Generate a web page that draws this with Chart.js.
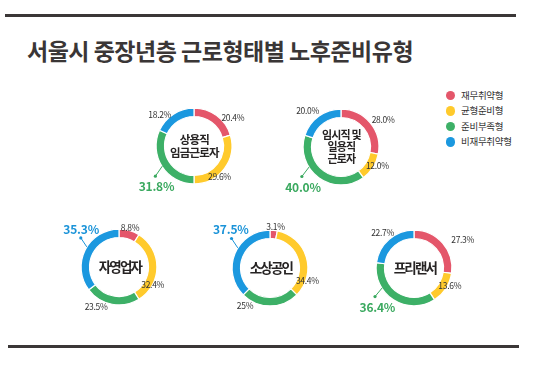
<!DOCTYPE html>
<html><head><meta charset="utf-8">
<script src="https://cdn.jsdelivr.net/npm/chart.js@4.4.1/dist/chart.umd.min.js"></script>
<style>
html,body{margin:0;padding:0;background:#fff;}
body{width:537px;height:366px;overflow:hidden;position:relative;font-family:"Noto Sans CJK KR","Noto Sans",sans-serif;}
.rule{position:absolute;background:#3b3737;}
#title{position:absolute;left:27px;top:39px;font-size:23px;font-weight:700;letter-spacing:-0.5px;color:#3a3636;white-space:nowrap;line-height:1;margin:0;}
#legend{position:absolute;left:446px;top:88px;}
.li{position:relative;height:15.4px;line-height:15.4px;font-size:9.5px;color:#333;padding-left:15px;white-space:nowrap;letter-spacing:-0.3px;}
.dot{position:absolute;left:0;top:3px;width:9.4px;height:9.4px;border-radius:50%;}
canvas{position:absolute;}
</style></head>
<body>
<div class="rule" style="left:5px;top:14px;width:511px;height:3px;"></div>
<h1 id="title">서울시 중장년층 근로형태별 노후준비유형</h1>
<div id="legend"></div>
<div class="rule" style="left:8px;top:345px;width:511px;height:3px;"></div>
<canvas id="c0" width="200" height="150"></canvas>
<canvas id="c1" width="200" height="150"></canvas>
<canvas id="c2" width="200" height="150"></canvas>
<canvas id="c3" width="200" height="150"></canvas>
<canvas id="c4" width="200" height="150"></canvas>
<script>
// ---- data ----
const seriesNames = ['재무취약형', '균형준비형', '준비부족형', '비재무취약형'];
const groupNames = [['상용직', '임금근로자'], ['임시직 및', '일용직', '근로자'], ['자영업자'], ['소상공인'], ['프리랜서']];
const regularWage = [20.4, 29.6, 31.8, 18.2];
const tempDaily = [28.0, 12.0, 40.0, 20.0];
const selfEmployed = [8.8, 32.4, 23.5, 35.3];
const smallBusiness = [3.1, 34.4, 25, 37.5];
const freelancer = [27.3, 13.6, 36.4, 22.7];
const regularWageLabels = ['20.4%', '29.6%', '31.8%', '18.2%'];
const tempDailyLabels = ['28.0%', '12.0%', '40.0%', '20.0%'];
const selfEmployedLabels = ['8.8%', '32.4%', '23.5%', '35.3%'];
const smallBusinessLabels = ['3.1%', '34.4%', '25%', '37.5%'];
const freelancerLabels = ['27.3%', '13.6%', '36.4%', '22.7%'];

// ---- styles / layout ----
const colors = ['#E4566A', '#FFCA2C', '#3DB067', '#1B98DF'];
const textColors = ['#E4566A', '#F2B800', '#3AA95F', '#1A93D8'];
const charts = [
  {data: regularWage, labels: regularWageLabels, name: groupNames[0], cx: 193.5, cy: 146,
   pos: [[54, 48], [140.5, 40], [222.5, 55.5], [312.5, 46.5]], leader: [237.6, 37.5, 232, 49],
   cSize: 11.5, cLH: 13.5, cLS: -0.8},
  {data: tempDaily, labels: tempDailyLabels, name: groupNames[1], cx: 341, cy: 146.5,
   pos: [[57.3, 50], [117.5, 41], [223.2, 55.5], [317, 49]], leader: [238, 37.5, 233, 49],
   cSize: 11, cLH: 12.2, cLS: -0.8},
  {data: selfEmployed, labels: selfEmployedLabels, name: groupNames[2], cx: 119, cy: 267,
   pos: [[15.7, 40.5], [117.6, 38], [210.2, 45.5], [315, 53.5]], leader: [302, 38, 307.3, 48],
   cSize: 13.5, cLH: 14, cLS: -1.8},
  {data: smallBusiness, labels: smallBusinessLabels, name: groupNames[3], cx: 269.5, cy: 267.5,
   pos: [[7.6, 41.5], [109, 39.5], [213.3, 45.5], [314.6, 55]], leader: [302, 38, 307.5, 48.5],
   cSize: 13.5, cLH: 14, cLS: -1.8},
  {data: freelancer, labels: freelancerLabels, name: groupNames[4], cx: 414, cy: 267.5,
   pos: [[60.3, 56], [116.6, 40], [222.7, 54], [318, 47]], leader: [238, 37.5, 233.8, 48.3],
   cSize: 13.5, cLH: 14, cLS: -1.8}
];

// legend
const lg = document.getElementById('legend');
seriesNames.forEach((n, i) => {
  const d = document.createElement('div'); d.className = 'li';
  d.innerHTML = '<span class="dot" style="background:' + colors[i] + '"></span>' + n;
  lg.appendChild(d);
});

const CW = 200, CH = 150, DIAM = 77;
const labelPlugin = {
  id: 'donutLabels',
  afterDraw(chart, args, o) {
    const ctx = chart.ctx;
    const arcs = chart.getDatasetMeta(0).data;
    const cx = arcs[0].x, cy = arcs[0].y;
    const vals = chart.data.datasets[0].data;
    const hi = vals.indexOf(Math.max(...vals));
    ctx.save();
    ctx.textAlign = 'center'; ctx.textBaseline = 'middle';
    // center text
    ctx.fillStyle = '#262323';
    ctx.font = '700 ' + o.cSize + 'px "Noto Sans CJK KR"';
    ctx.letterSpacing = o.cLS + 'px';
    o.name.forEach((t, i) => {
      ctx.fillText(t, cx - o.cLS / 2, cy + (i - (o.name.length - 1) / 2) * o.cLH);
    });
    // value labels
    o.labels.forEach((t, i) => {
      const [a, d] = o.pos[i];
      const r = a * Math.PI / 180;
      const x = cx + d * Math.sin(r), y = cy - d * Math.cos(r);
      if (i === hi) {
        ctx.font = '600 12px "Noto Sans CJK KR"';
        ctx.letterSpacing = '-0.2px';
        ctx.fillStyle = textColors[i];
        ctx.fillText(t, x, y);
      } else {
        ctx.font = '400 8.5px "Noto Sans CJK KR"';
        ctx.letterSpacing = '-0.3px';
        ctx.fillStyle = '#333';
        ctx.fillText(t, x, y);
      }
    });
    // leader
    const [a0, r0, a1, r1] = o.leader;
    const p0 = [cx + r0 * Math.sin(a0 * Math.PI / 180), cy - r0 * Math.cos(a0 * Math.PI / 180)];
    const p1 = [cx + r1 * Math.sin(a1 * Math.PI / 180), cy - r1 * Math.cos(a1 * Math.PI / 180)];
    ctx.strokeStyle = textColors[hi]; ctx.fillStyle = textColors[hi]; ctx.lineWidth = 1;
    ctx.beginPath(); ctx.moveTo(p0[0], p0[1]); ctx.lineTo(p1[0], p1[1]); ctx.stroke();
    ctx.beginPath(); ctx.arc(p1[0], p1[1], 1.6, 0, Math.PI * 2); ctx.fill();
    ctx.restore();
  }
};

charts.forEach((c, k) => {
  const cv = document.getElementById('c' + k);
  cv.style.left = (c.cx - CW / 2) + 'px';
  cv.style.top = (c.cy - CH / 2) + 'px';
  new Chart(cv, {
    type: 'doughnut',
    data: {
      labels: seriesNames,
      datasets: [{data: c.data, backgroundColor: colors, borderColor: '#fff', borderWidth: 1.2}]
    },
    options: {
      responsive: false, maintainAspectRatio: false, animation: false, devicePixelRatio: 1,
      cutout: 29.5,
      layout: {padding: {left: (CW - DIAM) / 2, right: (CW - DIAM) / 2, top: (CH - DIAM) / 2, bottom: (CH - DIAM) / 2}},
      plugins: {legend: {display: false}, tooltip: {enabled: false},
        donutLabels: {labels: c.labels, name: c.name, pos: c.pos, leader: c.leader, cSize: c.cSize, cLH: c.cLH, cLS: c.cLS}}
    },
    plugins: [labelPlugin]
  });
});
</script>
</body></html>
